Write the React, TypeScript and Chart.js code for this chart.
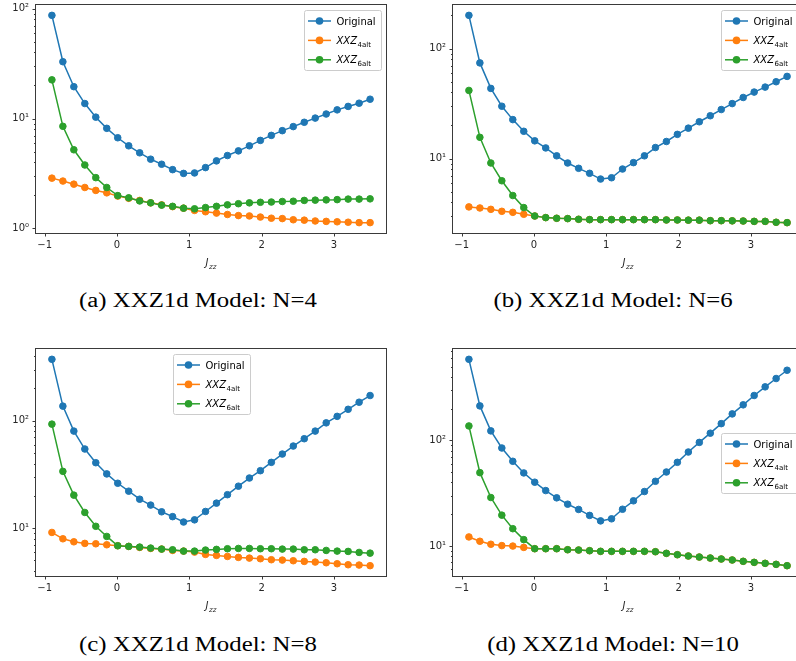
import React, { useEffect, useRef } from "react";
import { Chart, registerables } from "chart.js";

Chart.register(...registerables);

// Sampled couplings J_zz (30 points from -0.9 to 3.5)
const JZZ = [
  -0.9, -0.7483, -0.5966, -0.4448, -0.2931, -0.1414, 0.0103, 0.1621, 0.3138, 0.4655,
  0.6172, 0.769, 0.9207, 1.0724, 1.2241, 1.3759, 1.5276, 1.6793, 1.831, 1.9828,
  2.1345, 2.2862, 2.4379, 2.5897, 2.7414, 2.8931, 3.0448, 3.1966, 3.3483, 3.5,
];

// N = 4
const N4_ORIGINAL = [86.9, 32.9, 19.5, 13.7, 10.3, 8.15, 6.69, 5.65, 4.88, 4.27, 3.84, 3.43, 3.17, 3.2, 3.58, 4.12, 4.61, 5.08, 5.65, 6.33, 7.03, 7.76, 8.45, 9.25, 10.1, 11.0, 12.0, 12.9, 13.8, 15.0];
const N4_XXZ4 = [2.87, 2.7, 2.53, 2.36, 2.22, 2.11, 1.97, 1.88, 1.8, 1.71, 1.64, 1.58, 1.53, 1.46, 1.42, 1.38, 1.34, 1.31, 1.3, 1.27, 1.24, 1.23, 1.2, 1.19, 1.17, 1.16, 1.15, 1.14, 1.13, 1.13];
const N4_XXZ6 = [22.5, 8.5, 5.2, 3.78, 2.9, 2.36, 1.99, 1.9, 1.78, 1.71, 1.63, 1.59, 1.53, 1.51, 1.55, 1.59, 1.64, 1.68, 1.71, 1.73, 1.74, 1.76, 1.77, 1.8, 1.81, 1.82, 1.83, 1.85, 1.85, 1.86];

// N = 6
const N6_ORIGINAL = [200, 74, 43.4, 29.9, 22.6, 17.7, 14.5, 12.5, 10.6, 9.12, 8.16, 7.35, 6.52, 6.7, 8.04, 9.19, 10.6, 12.6, 14.3, 16.6, 18.9, 21.6, 24.5, 27.9, 31.6, 35.9, 40.2, 44.6, 49.9, 55.8];
const N6_XXZ4 = [3.64, 3.56, 3.46, 3.32, 3.25, 3.12, 3.01, 2.91, 2.87, 2.85, 2.81, 2.79, 2.79, 2.79, 2.79, 2.79, 2.79, 2.79, 2.77, 2.77, 2.76, 2.76, 2.73, 2.73, 2.72, 2.71, 2.69, 2.69, 2.64, 2.62];
const N6_XXZ6 = [41.6, 15.6, 9.12, 6.29, 4.62, 3.59, 3.01, 2.91, 2.87, 2.85, 2.81, 2.79, 2.79, 2.79, 2.79, 2.79, 2.79, 2.79, 2.77, 2.77, 2.76, 2.76, 2.73, 2.73, 2.72, 2.71, 2.69, 2.69, 2.64, 2.62];

// N = 8
const N8_ORIGINAL = [374, 137, 80.2, 54.6, 40.7, 32.0, 26.2, 22.1, 18.6, 16.4, 14.2, 12.8, 11.4, 11.95, 14.3, 17.1, 20.5, 24.6, 29.3, 34.3, 41.0, 49.0, 58.2, 68.1, 80.2, 95.7, 110, 128, 149, 172];
const N8_XXZ4 = [9.12, 7.96, 7.46, 7.21, 7.15, 7.0, 6.86, 6.76, 6.61, 6.47, 6.38, 6.2, 6.11, 5.98, 5.69, 5.57, 5.45, 5.34, 5.26, 5.19, 5.08, 5.04, 4.97, 4.9, 4.83, 4.76, 4.66, 4.56, 4.53, 4.47];
const N8_XXZ6 = [93.1, 33.8, 20.3, 14.0, 10.4, 8.37, 6.85, 6.76, 6.66, 6.52, 6.38, 6.29, 6.11, 6.11, 6.25, 6.34, 6.43, 6.47, 6.47, 6.43, 6.43, 6.38, 6.38, 6.29, 6.29, 6.2, 6.11, 6.07, 5.94, 5.85];

// N = 10
const N10_ORIGINAL = [585, 212, 123, 84.7, 63.4, 49.2, 40.2, 33.5, 28.6, 24.9, 22.2, 19.5, 17.3, 18.1, 22.3, 26.8, 32.8, 41.0, 50.2, 62.0, 77.6, 95.7, 117, 144, 178, 217, 266, 321, 385, 461];
const N10_XXZ4 = [12.2, 11.1, 10.4, 10.1, 10.0, 9.71, 9.44, 9.44, 9.44, 9.23, 9.17, 9.04, 8.91, 8.91, 8.91, 8.91, 8.91, 8.84, 8.53, 8.28, 8.05, 7.87, 7.7, 7.54, 7.38, 7.17, 7.01, 6.86, 6.71, 6.52];
const N10_XXZ6 = [137, 49.5, 28.8, 19.6, 14.6, 11.5, 9.44, 9.44, 9.44, 9.23, 9.17, 9.04, 8.91, 8.91, 8.91, 8.91, 8.91, 8.84, 8.53, 8.28, 8.05, 7.87, 7.7, 7.54, 7.38, 7.17, 7.01, 6.86, 6.71, 6.52];

const SERIES_LABELS = [
  { text: "Original", sub: "" },
  { text: "XXZ", sub: "4alt" },
  { text: "XXZ", sub: "6alt" },
];
const SERIES_COLORS = ["#1f77b4", "#ff7f0e", "#2ca02c"];
const X_TICKS = [-1, 0, 1, 2, 3];
const CAPTIONS = [
  "(a) XXZ1d Model: N=4",
  "(b) XXZ1d Model: N=6",
  "(c) XXZ1d Model: N=8",
  "(d) XXZ1d Model: N=10",
];

const AXIS_COLOR = "#3a3a3a";
const TEXT_COLOR = "#262626";
const FONT = "'DejaVu Sans', sans-serif";

type LegendLoc = "upper right" | "upper center" | "center right";

interface PanelLayout {
  left: number;
  top: number;
  width: number;
  height: number;
  axisWidth: number;
  padTop: number;
  padRight: number;
  plotBottom: number;
  legendLoc: LegendLoc;
  captionX: number;
  captionY: number;
}

const PANELS: { series: number[][]; caption: string; layout: PanelLayout }[] = [
  {
    series: [N4_ORIGINAL, N4_XXZ4, N4_XXZ6],
    caption: CAPTIONS[0],
    layout: { left: 0, top: 0, width: 400, height: 280, axisWidth: 36, padTop: 4, padRight: 14, plotBottom: 233, legendLoc: "upper right", captionX: 198, captionY: 289 },
  },
  {
    series: [N6_ORIGINAL, N6_XXZ4, N6_XXZ6],
    caption: CAPTIONS[1],
    layout: { left: 400, top: 0, width: 410, height: 280, axisWidth: 53, padTop: 5, padRight: 7, plotBottom: 233, legendLoc: "upper right", captionX: 613, captionY: 289 },
  },
  {
    series: [N8_ORIGINAL, N8_XXZ4, N8_XXZ6],
    caption: CAPTIONS[2],
    layout: { left: 0, top: 340, width: 400, height: 280, axisWidth: 36, padTop: 9, padRight: 14, plotBottom: 236, legendLoc: "upper center", captionX: 198, captionY: 633 },
  },
  {
    series: [N10_ORIGINAL, N10_XXZ4, N10_XXZ6],
    caption: CAPTIONS[3],
    layout: { left: 400, top: 340, width: 410, height: 280, axisWidth: 53, padTop: 9, padRight: 7, plotBottom: 236, legendLoc: "center right", captionX: 613, captionY: 633 },
  },
];

const SUPERSCRIPTS: Record<string, string> = {
  "0": "\u2070", "1": "\u00b9", "2": "\u00b2", "3": "\u00b3", "4": "\u2074",
  "5": "\u2075", "6": "\u2076", "7": "\u2077", "8": "\u2078", "9": "\u2079", "-": "\u207b",
};

function isPow10(v: number): boolean {
  const l = Math.log10(v);
  return Math.abs(l - Math.round(l)) < 1e-9;
}

function logLabel(v: number): string {
  if (!isPow10(v)) return "";
  const e = String(Math.round(Math.log10(v)));
  return "10" + e.split("").map((c) => SUPERSCRIPTS[c]).join("");
}

// Matplotlib-like autoscale: 5% margin on each side (in log space for y)
function paddedLogRange(series: number[][]): [number, number] {
  const all = series.flat();
  const lo = Math.log10(Math.min(...all));
  const hi = Math.log10(Math.max(...all));
  const m = (hi - lo) * 0.05;
  return [Math.pow(10, lo - m), Math.pow(10, hi + m)];
}

function paddedRange(values: number[]): [number, number] {
  const lo = Math.min(...values);
  const hi = Math.max(...values);
  const m = (hi - lo) * 0.05;
  return [lo - m, hi + m];
}

function logTicks(min: number, max: number) {
  const out: { value: number; major: boolean }[] = [];
  const k0 = Math.floor(Math.log10(min));
  const k1 = Math.ceil(Math.log10(max));
  for (let k = k0; k <= k1; k++) {
    for (let m = 1; m <= 9; m++) {
      const v = m * Math.pow(10, k);
      if (v >= min && v <= max) out.push({ value: v, major: m === 1 });
    }
  }
  return out;
}

function drawMathLabel(ctx: CanvasRenderingContext2D, x: number, baseline: number, base: string, sub: string, italicBase: boolean, italicSub: boolean, measureOnly = false): number {
  ctx.font = `${italicBase ? "italic " : ""}10px ${FONT}`;
  const w1 = ctx.measureText(base).width;
  if (!measureOnly) ctx.fillText(base, x, baseline);
  let w2 = 0;
  if (sub) {
    ctx.font = `${italicSub ? "italic " : ""}7px ${FONT}`;
    w2 = ctx.measureText(sub).width;
    if (!measureOnly) ctx.fillText(sub, x + w1 + 0.5, baseline + 2.5);
  }
  return w1 + 0.5 + w2;
}

const mplDecor = {
  id: "mplDecor",
  afterDraw(chart: any, _args: any, opts: any) {
    const ctx: CanvasRenderingContext2D = chart.ctx;
    const a = chart.chartArea;
    const xs = chart.scales.x;
    const ys = chart.scales.y;
    ctx.save();

    // tick marks
    ctx.strokeStyle = AXIS_COLOR;
    ctx.lineWidth = 1;
    ctx.beginPath();
    for (const t of xs.ticks) {
      const px = Math.round(xs.getPixelForValue(t.value)) + 0.5;
      ctx.moveTo(px, a.bottom);
      ctx.lineTo(px, a.bottom + 3.5);
    }
    for (const t of ys.ticks) {
      const py = Math.round(ys.getPixelForValue(t.value)) + 0.5;
      const len = isPow10(t.value) ? 3.5 : 2;
      ctx.moveTo(a.left, py);
      ctx.lineTo(a.left - len, py);
    }
    ctx.stroke();

    // spines
    ctx.strokeRect(Math.round(a.left) - 0.5, Math.round(a.top) - 0.5, Math.round(a.right - a.left) + 1, Math.round(a.bottom - a.top) + 1);

    // x axis title J_zz
    ctx.fillStyle = TEXT_COLOR;
    ctx.textBaseline = "alphabetic";
    ctx.textAlign = "left";
    const tw = drawMathLabel(ctx, 0, 0, "J", "zz", true, true, true);
    drawMathLabel(ctx, (a.left + a.right) / 2 - tw / 2, a.bottom + 33, "J", "zz", true, true);

    // legend
    const labels = SERIES_LABELS;
    let maxW = 0;
    for (const l of labels) {
      const w = l.sub ? drawMathLabel(ctx, 0, 0, l.text, l.sub, true, false, true) : drawMathLabel(ctx, 0, 0, l.text, "", false, false, true);
      maxW = Math.max(maxW, w);
    }
    const boxW = Math.round(32 + maxW + 5);
    const boxH = 60;
    let bx = 0;
    let by = 0;
    const loc: LegendLoc = opts.loc;
    if (loc === "upper right") {
      bx = a.right - 5 - boxW;
      by = a.top + 5;
    } else if (loc === "upper center") {
      bx = (a.left + a.right) / 2 - boxW / 2;
      by = a.top + 5;
    } else {
      bx = a.right - 5 - boxW;
      by = (a.top + a.bottom) / 2 - boxH / 2;
    }
    bx = Math.round(bx) + 0.5;
    by = Math.round(by) + 0.5;
    ctx.beginPath();
    ctx.roundRect(bx, by, boxW, boxH, 2);
    ctx.fillStyle = "rgba(255,255,255,0.8)";
    ctx.fill();
    ctx.strokeStyle = "#cccccc";
    ctx.lineWidth = 1;
    ctx.stroke();

    labels.forEach((l, i) => {
      const cy = by + 10.5 + i * 19.4;
      const color = SERIES_COLORS[i];
      ctx.strokeStyle = color;
      ctx.lineWidth = 1.5;
      ctx.beginPath();
      ctx.moveTo(bx + 3.5, cy);
      ctx.lineTo(bx + 26.5, cy);
      ctx.stroke();
      ctx.fillStyle = color;
      ctx.beginPath();
      ctx.arc(bx + 15, cy, 3.8, 0, Math.PI * 2);
      ctx.fill();
      ctx.fillStyle = "#000000";
      if (l.sub) drawMathLabel(ctx, bx + 32, cy + 3.6, l.text, l.sub, true, false);
      else drawMathLabel(ctx, bx + 32, cy + 3.6, l.text, "", false, false);
    });

    ctx.restore();
  },
};

function Panel({ series, layout }: { series: number[][]; layout: PanelLayout }) {
  const ref = useRef<HTMLCanvasElement | null>(null);

  useEffect(() => {
    if (!ref.current) return;
    const [xMin, xMax] = paddedRange(JZZ);
    const [yMin, yMax] = paddedLogRange(series);

    const datasets = series.map((vals, i) => ({
      label: SERIES_LABELS[i].text + SERIES_LABELS[i].sub,
      data: vals.map((v, j) => ({ x: JZZ[j], y: v })),
      borderColor: SERIES_COLORS[i],
      backgroundColor: SERIES_COLORS[i],
      pointBackgroundColor: SERIES_COLORS[i],
      pointBorderColor: SERIES_COLORS[i],
      borderWidth: 1.5,
      pointRadius: 3.3,
      pointBorderWidth: 1,
      tension: 0,
      order: 3 - i,
    }));

    const chart = new Chart(ref.current, {
      type: "line",
      data: { datasets },
      plugins: [mplDecor],
      options: {
        animation: false,
        responsive: false,
        maintainAspectRatio: false,
        devicePixelRatio: 1,
        events: [],
        layout: { padding: { top: layout.padTop, right: layout.padRight, left: 0, bottom: 0 } },
        plugins: {
          legend: { display: false },
          tooltip: { enabled: false },
          title: { display: false },
          mplDecor: { loc: layout.legendLoc },
        } as any,
        scales: {
          x: {
            type: "linear",
            min: xMin,
            max: xMax,
            grid: { display: false, drawTicks: false },
            border: { display: false },
            ticks: {
              padding: 6,
              color: TEXT_COLOR,
              font: { family: FONT, size: 10 },
              autoSkip: false,
              maxRotation: 0,
              callback: (v: any) => (Number(v) < 0 ? "\u2212" + Math.abs(Number(v)) : String(v)),
            },
            afterBuildTicks: (scale: any) => {
              scale.ticks = X_TICKS.map((v) => ({ value: v }));
            },
            afterFit: (scale: any) => {
              scale.height = layout.height - layout.plotBottom;
              scale.paddingLeft = 0;
              scale.paddingRight = 0;
              scale.paddingTop = 0;
              scale.paddingBottom = 0;
            },
          },
          y: {
            type: "logarithmic",
            min: yMin,
            max: yMax,
            grid: { display: false, drawTicks: false },
            border: { display: false },
            ticks: {
              padding: 7,
              color: TEXT_COLOR,
              font: { family: FONT, size: 10 },
              autoSkip: false,
              callback: (v: any) => logLabel(Number(v)),
            },
            afterBuildTicks: (scale: any) => {
              scale.ticks = logTicks(yMin, yMax);
            },
            afterFit: (scale: any) => {
              scale.width = layout.axisWidth;
              scale.paddingLeft = 0;
              scale.paddingRight = 0;
              scale.paddingTop = 0;
              scale.paddingBottom = 0;
            },
          },
        },
      } as any,
    });
    return () => chart.destroy();
  }, [series, layout]);

  return (
    <canvas
      ref={ref}
      width={layout.width}
      height={layout.height}
      style={{ position: "absolute", left: layout.left, top: layout.top, width: layout.width, height: layout.height }}
    />
  );
}

export default function App() {
  return (
    <div style={{ position: "absolute", left: 0, top: 0, width: 796, height: 661, overflow: "hidden", background: "#ffffff" }}>
      {PANELS.map((p, i) => (
        <React.Fragment key={i}>
          <Panel series={p.series} layout={p.layout} />
          <div
            style={{
              position: "absolute",
              left: p.layout.captionX,
              top: p.layout.captionY,
              transform: "translateX(-50%) scaleX(1.24)",
              whiteSpace: "nowrap",
              fontFamily: "'Liberation Serif', serif",
              fontSize: 20,
              lineHeight: "22px",
              color: "#000",
            }}
          >
            {p.caption}
          </div>
        </React.Fragment>
      ))}
    </div>
  );
}
